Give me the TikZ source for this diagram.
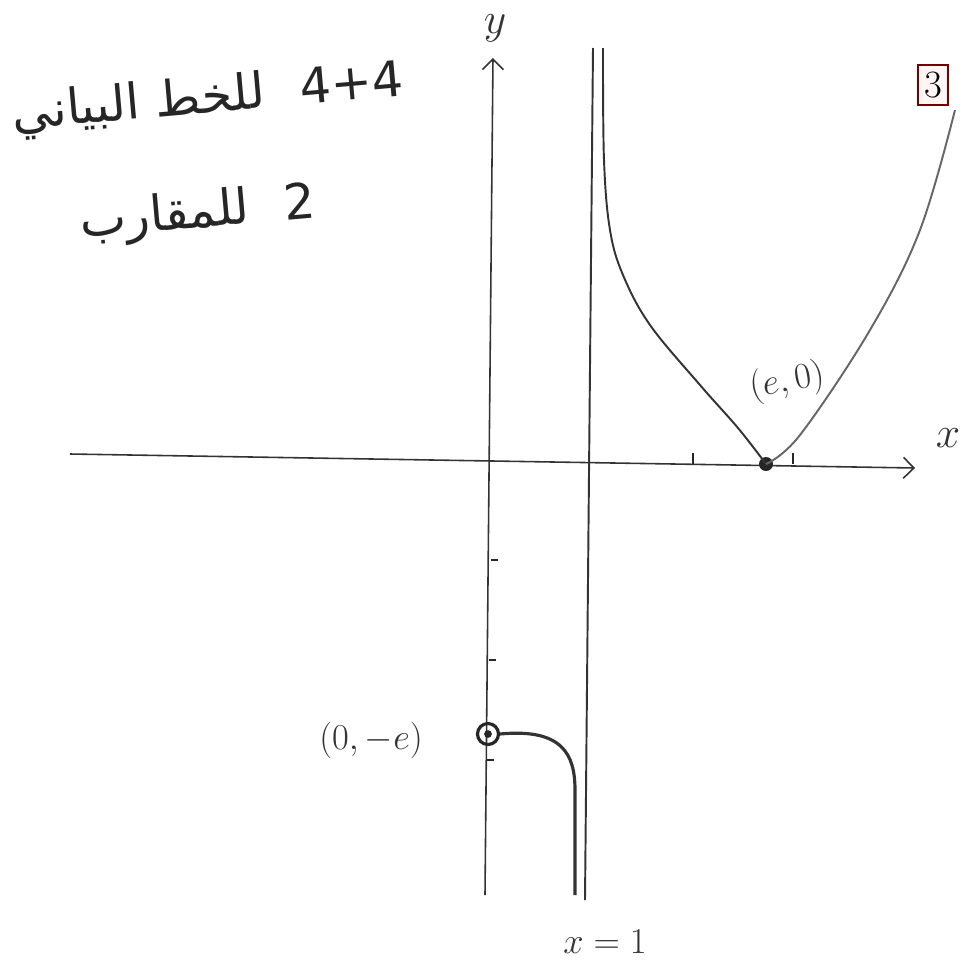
\documentclass[tikz,border=0pt]{standalone}
\usepackage{fontspec}
\usepackage{amsmath}
\usepackage{tikz}
\usetikzlibrary{arrows.meta}
\newfontfamily\arabicfont[Script=Arabic]{DejaVu Sans}
\TeXXeTstate=1

\begin{document}
\begin{tikzpicture}[x=2cm,y=2cm,
  pen/.style={draw=black!80, line width=1.1pt},
  axisline/.style={draw=black!80, line width=0.9pt, -{Straight Barb[length=6pt,width=12pt]}},
  tickmark/.style={draw=black!85, line width=1.6pt},
  hand/.style={font=\fontsize{28}{32}\selectfont\arabicfont, text=black!85},
  mathlabel/.style={font=\fontsize{22}{24}\selectfont, text=black!80}]
\useasboundingbox (-4.93,-4.99) rectangle (4.67,4.60);

% axes
\coordinate (xl) at (-4.23,0.06);
\coordinate (xr) at (4.22,-0.08);
\coordinate (yb) at (-0.08,-4.35);
\coordinate (yt) at (0,4.02);
\draw[axisline] (xl) -- (xr);
\draw[axisline] (yb) -- (yt);
\node[mathlabel, font=\fontsize{24}{26}\selectfont] (xlab) at (4.55,0.22) {$x$};
\node[mathlabel, font=\fontsize{24}{26}\selectfont] (ylab) at (0.02,4.32) {$y$};

% ticks
\foreach \t in {2,3}
  \draw[tickmark] (\t,-0.04) -- (\t,0.07);
\foreach \t in {1,2,3}
  \draw[tickmark] (-0.02*\t,-\t) -- (-0.02*\t+0.07,-\t);

% asymptote x=1
\coordinate (at) at (1.0,4.12);
\coordinate (ab) at (0.92,-4.40);
\draw[pen] (at) -- (ab);
\node[mathlabel] (asy) at (1.12,-4.82) {$x=1$};

% right branch
\node[circle, fill=black!85, inner sep=0pt, minimum size=0.28cm] (pe) at (2.73,-0.04) {};
\draw[pen] plot[smooth, tension=0.6] coordinates {(1.10,4.12) (1.11,3.0) (1.17,2.3) (1.30,1.85) (1.57,1.35) (2.07,0.75) (2.45,0.32) (pe.center)};
\draw[pen, draw=black!60] plot[smooth, tension=0.6] coordinates {(pe.center) (3.07,0.25) (3.77,1.30) (4.27,2.30) (4.62,3.50)};
\node[mathlabel, rotate=10] (pelab) at (2.94,0.78) {$(e,0)$};

% lower branch
\node[circle, draw=black!85, line width=1.8pt, inner sep=0pt, minimum size=0.42cm] (pm) at (-0.05,-2.74) {};
\fill[black!85] (pm.center) circle (2.2pt);
\draw[pen, line width=1.8pt] (pm.east) .. controls (0.70,-2.68) and (0.82,-2.95) .. (0.82,-3.30) -- (0.82,-4.35);
\node[mathlabel] (pmlab) at (-1.22,-2.80) {$(0,-e)$};

% mark box
\node[draw=red!45!black, fill=red!4, line width=1.2pt, minimum width=0.6cm, minimum height=0.8cm, inner sep=0pt, font=\fontsize{22}{24}\selectfont] (mark) at (4.40,3.75) {3};

% notes
\node[hand, rotate=5] (note1) at (-2.85,3.60) {\beginR\beginL 4+4\endL\hspace{0.4em} للخط البياني\endR};
\node[hand, rotate=5] (note2) at (-2.95,2.45) {\beginR\beginL 2\endL\hspace{0.4em} للمقارب\endR};
\end{tikzpicture}
\end{document}
